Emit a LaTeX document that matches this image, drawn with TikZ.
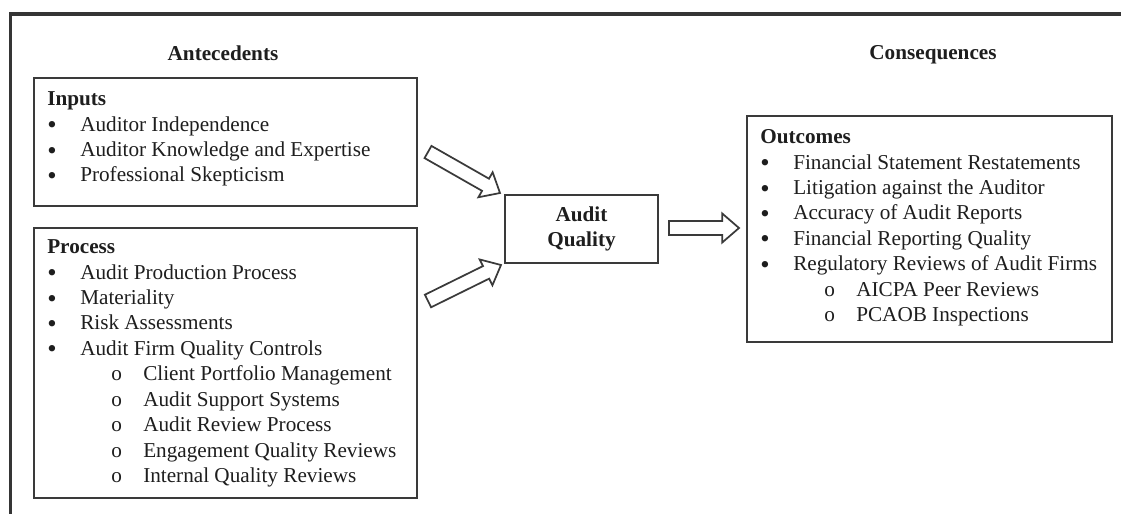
\documentclass[tikz,border=0pt]{standalone}
\usepackage{fontspec}
\setmainfont{Liberation Serif}
\usetikzlibrary{calc}

% one drawing unit = one pixel of the 1121 x 514 canvas
\newlength\pxu
\setlength\pxu{0.75pt}

\definecolor{ink}{HTML}{1E1E1E}
\definecolor{rule}{HTML}{3A3A3A}

% list lines: heading, bullet item, sub item
\newcommand\hd[1]{\strut\textbf{#1}}
\newcommand\itm[1]{\strut\makebox[33\pxu][l]{\raisebox{-1.9pt}{\fontsize{20}{19}\selectfont\textbullet}}#1}
\newcommand\subitm[1]{\strut\hspace*{64\pxu}\makebox[32\pxu][l]{o}#1}

% hollow block arrow from a tail point to a tip point
\newcommand\blockarrow[2]{%
  \path ($(#2)!12.5pt!(#1)$) coordinate (ba-h);
  \draw[arrowline]
    ($(#1)!5.25pt!90:(#2)$) -- ($(ba-h)!5.25pt!-90:(#1)$) --
    ($(ba-h)!10.8pt!-90:(#1)$) -- (#2) --
    ($(ba-h)!10.8pt!90:(#1)$) -- ($(ba-h)!5.25pt!90:(#1)$) --
    ($(#1)!5.25pt!-90:(#2)$) -- cycle;
}

\tikzset{
  txt/.style={font=\fontsize{15.9}{19.1}\selectfont, text=ink, inner sep=0pt},
  title/.style={txt, font=\fontsize{15.9}{19.1}\selectfont\bfseries},
  box/.style={draw=rule, line width=1.5pt, inner sep=0pt, anchor=north west},
  listtext/.style={txt, align=left, anchor=north west},
  frame/.style={draw=ink!90, line width=2.6pt},
  arrowline/.style={draw=rule, line width=1.3pt, fill=white, line join=miter},
}

\begin{document}
\begin{tikzpicture}[x=0.75pt, y=-0.75pt]
  \useasboundingbox (0,0) rectangle (1121,514);
  \fill[white] (0,0) rectangle (1121,514);

  % outer frame: top and left edges only
  \draw[frame] (10.5,514) -- (10.5,14) -- (1121,14);

  % column titles
  \node[title] (antecedents) at (223,53) {Antecedents};
  \node[title] (consequences) at (933,55) {Consequences};

  % boxes
  \node[box, minimum width=383\pxu, minimum height=128\pxu] (inputs) at (33,77) {};
  \node[box, minimum width=383\pxu, minimum height=270\pxu] (process) at (33,227) {};
  \node[box, minimum width=365\pxu, minimum height=226\pxu] (outcomes) at (746,115) {};
  \node[box, minimum width=153\pxu, minimum height=68\pxu, title, align=center,
        anchor=center] (quality) at (581.5,229) {Audit\\Quality};

  % box contents
  \node[listtext] (inputs-list) at ($(inputs.north west)+(14,10.5)$) {%
    \hd{Inputs}\\
    \itm{Auditor Independence}\\
    \itm{Auditor Knowledge and Expertise}\\
    \itm{Professional Skepticism}};

  \node[listtext] (process-list) at ($(process.north west)+(14,8.5)$) {%
    \hd{Process}\\
    \itm{Audit Production Process}\\
    \itm{Materiality}\\
    \itm{Risk Assessments}\\
    \itm{Audit Firm Quality Controls}\\
    \subitm{Client Portfolio Management}\\
    \subitm{Audit Support Systems}\\
    \subitm{Audit Review Process}\\
    \subitm{Engagement Quality Reviews}\\
    \subitm{Internal Quality Reviews}};

  \node[listtext] (outcomes-list) at ($(outcomes.north west)+(14,10.5)$) {%
    \hd{Outcomes}\\
    \itm{Financial Statement Restatements}\\
    \itm{Litigation against the Auditor}\\
    \itm{Accuracy of Audit Reports}\\
    \itm{Financial Reporting Quality}\\
    \itm{Regulatory Reviews of Audit Firms}\\
    \subitm{AICPA Peer Reviews}\\
    \subitm{PCAOB Inspections}};

  % block arrows
  \coordinate (in-tail) at (428,152);
  \coordinate (in-tip) at (500,193);
  \coordinate (pr-tail) at (428,301);
  \coordinate (pr-tip) at (501,265);
  \coordinate (out-tail) at (669,228);
  \coordinate (out-tip) at (739,228);
  \blockarrow{in-tail}{in-tip}
  \blockarrow{pr-tail}{pr-tip}
  \blockarrow{out-tail}{out-tip}
\end{tikzpicture}
\end{document}
